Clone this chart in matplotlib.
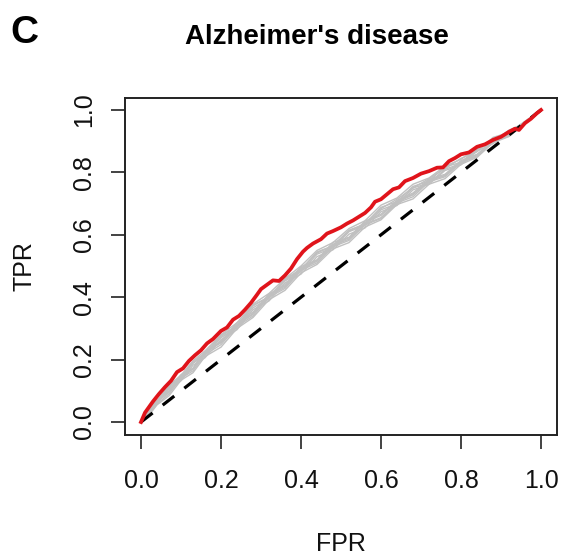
import matplotlib
matplotlib.use("Agg")
import matplotlib.pyplot as plt

plt.rcParams["font.family"] = ["Liberation Sans", "DejaVu Sans"]

# red ROC curve (main model)
red_fpr = [0, 0.01, 0.02, 0.03, 0.045, 0.06, 0.075, 0.09, 0.105, 0.12, 0.135, 0.15,
           0.165, 0.18, 0.2, 0.215, 0.23, 0.245, 0.26, 0.275, 0.29, 0.3, 0.315, 0.33,
           0.345, 0.36, 0.375, 0.39, 0.405, 0.415, 0.43, 0.45, 0.465, 0.48, 0.5, 0.515,
           0.53, 0.545, 0.56, 0.575, 0.585, 0.6, 0.615, 0.63, 0.645, 0.66, 0.68, 0.7,
           0.72, 0.74, 0.755, 0.77, 0.785, 0.8, 0.82, 0.84, 0.86, 0.88, 0.9, 0.92,
           0.935, 0.945, 0.96, 0.975, 0.99, 1.0]
red_tpr = [0, 0.03, 0.048, 0.066, 0.09, 0.112, 0.132, 0.16, 0.172, 0.196, 0.214, 0.23,
           0.252, 0.266, 0.292, 0.303, 0.328, 0.34, 0.36, 0.382, 0.408, 0.426, 0.44, 0.454,
           0.452, 0.47, 0.492, 0.522, 0.546, 0.558, 0.572, 0.586, 0.604, 0.612, 0.624, 0.636,
           0.646, 0.658, 0.67, 0.688, 0.706, 0.714, 0.73, 0.746, 0.752, 0.772, 0.782, 0.796,
           0.804, 0.815, 0.816, 0.836, 0.846, 0.858, 0.864, 0.882, 0.89, 0.904, 0.914, 0.93,
           0.94, 0.936, 0.958, 0.972, 0.99, 1.0]

# grey ROC curves (background runs)
grey_fpr = [0, 0.02, 0.04, 0.07, 0.1, 0.13, 0.16, 0.2, 0.24, 0.28, 0.32, 0.36, 0.4, 0.44,
            0.48, 0.52, 0.56, 0.6, 0.64, 0.68, 0.72, 0.76, 0.8, 0.84, 0.88, 0.92, 0.96, 1.0]
grey_1 = [0, 0.045, 0.068, 0.118, 0.15, 0.196, 0.228, 0.28, 0.318, 0.378, 0.412, 0.46, 0.5, 0.55,
          0.575, 0.62, 0.645, 0.695, 0.718, 0.762, 0.782, 0.82, 0.842, 0.878, 0.9, 0.935, 0.958, 1]
grey_2 = [0, 0.028, 0.064, 0.095, 0.146, 0.172, 0.222, 0.256, 0.312, 0.345, 0.405, 0.432, 0.49, 0.515,
          0.566, 0.586, 0.634, 0.655, 0.705, 0.728, 0.774, 0.79, 0.834, 0.852, 0.9, 0.92, 0.962, 1]
grey_3 = [0, 0.022, 0.055, 0.084, 0.134, 0.158, 0.21, 0.24, 0.3, 0.335, 0.392, 0.422, 0.478, 0.505,
          0.555, 0.575, 0.625, 0.648, 0.697, 0.715, 0.762, 0.78, 0.826, 0.848, 0.895, 0.915, 0.958, 1]
grey_4 = [0, 0.042, 0.064, 0.114, 0.144, 0.19, 0.218, 0.278, 0.308, 0.372, 0.402, 0.455, 0.488, 0.545,
          0.565, 0.615, 0.634, 0.688, 0.706, 0.755, 0.772, 0.818, 0.832, 0.875, 0.895, 0.935, 0.956, 1]
grey_5 = [0, 0.026, 0.066, 0.098, 0.142, 0.17, 0.224, 0.254, 0.31, 0.348, 0.408, 0.436, 0.494, 0.518,
          0.57, 0.59, 0.64, 0.662, 0.708, 0.73, 0.774, 0.79, 0.832, 0.856, 0.904, 0.918, 0.96, 1]
grey_6 = [0, 0.046, 0.066, 0.116, 0.142, 0.192, 0.222, 0.274, 0.31, 0.375, 0.4, 0.458, 0.49, 0.542,
          0.564, 0.612, 0.636, 0.684, 0.714, 0.75, 0.78, 0.812, 0.845, 0.866, 0.912, 0.928, 0.964, 1]
grey_7 = [0, 0.024, 0.058, 0.09, 0.14, 0.164, 0.216, 0.248, 0.306, 0.34, 0.4, 0.428, 0.486, 0.51,
          0.562, 0.582, 0.632, 0.652, 0.702, 0.722, 0.77, 0.786, 0.832, 0.85, 0.898, 0.916, 0.956, 1]
grey_8 = [0, 0.04, 0.062, 0.11, 0.138, 0.188, 0.214, 0.27, 0.304, 0.366, 0.396, 0.452, 0.482, 0.538,
          0.558, 0.61, 0.63, 0.68, 0.7, 0.75, 0.766, 0.81, 0.828, 0.872, 0.908, 0.924, 0.962, 1]
grey_9 = [0, 0.03, 0.07, 0.1, 0.152, 0.172, 0.226, 0.258, 0.318, 0.352, 0.41, 0.44, 0.498, 0.52,
          0.576, 0.592, 0.644, 0.666, 0.71, 0.734, 0.778, 0.794, 0.838, 0.858, 0.898, 0.926, 0.958, 1]
grey_10 = [0, 0.036, 0.06, 0.106, 0.132, 0.182, 0.206, 0.264, 0.296, 0.36, 0.388, 0.446, 0.474, 0.53,
           0.552, 0.602, 0.622, 0.674, 0.694, 0.744, 0.762, 0.806, 0.824, 0.868, 0.892, 0.93, 0.954, 1]
grey_curves = [grey_1, grey_2, grey_3, grey_4, grey_5, grey_6, grey_7, grey_8, grey_9, grey_10]

ticks = [0.0, 0.2, 0.4, 0.6, 0.8, 1.0]
tick_labels = ["0.0", "0.2", "0.4", "0.6", "0.8", "1.0"]

fig = plt.figure(figsize=(5.61, 5.56), dpi=100)
ax = fig.add_axes([125 / 561, 1 - 434.5 / 556, 432 / 561, 337 / 556])

for tpr in grey_curves:
    ax.plot(grey_fpr, tpr, color="#C0C0C0", linewidth=1.0)

ax.plot([0, 1], [0, 1], color="black", linewidth=2.3, linestyle=(0, (4.6, 4.0)))
ax.plot(red_fpr, red_tpr, color="#E0141B", linewidth=2.7)

ax.set_xlim(-0.04, 1.04)
ax.set_ylim(-0.04, 1.04)
ax.set_xticks(ticks)
ax.set_xticklabels(tick_labels)
ax.set_yticks(ticks)
ax.set_yticklabels(tick_labels, rotation=90, va="center")
ax.tick_params(axis="both", direction="out", length=10, width=1.2, labelsize=18,
               color="#222222", labelcolor="#111111")
ax.tick_params(axis="x", pad=15)
ax.tick_params(axis="y", pad=11)
for s in ax.spines.values():
    s.set_linewidth(1.4)
    s.set_color("#222222")

fig.text(341 / 561, 1 - 544 / 556, "FPR", fontsize=18, ha="center", va="center", color="#111111")
fig.text(24 / 561, 1 - 266 / 556, "TPR", fontsize=18, ha="center", va="center",
         rotation=90, color="#111111")
fig.text(317 / 561, 1 - 44 / 556, "Alzheimer's disease", fontsize=20, fontweight="bold",
         ha="center", va="baseline")
fig.text(10 / 561, 1 - 43 / 556, "C", fontsize=28, fontweight="bold", ha="left", va="baseline")

fig.savefig("out.png", dpi=100)
